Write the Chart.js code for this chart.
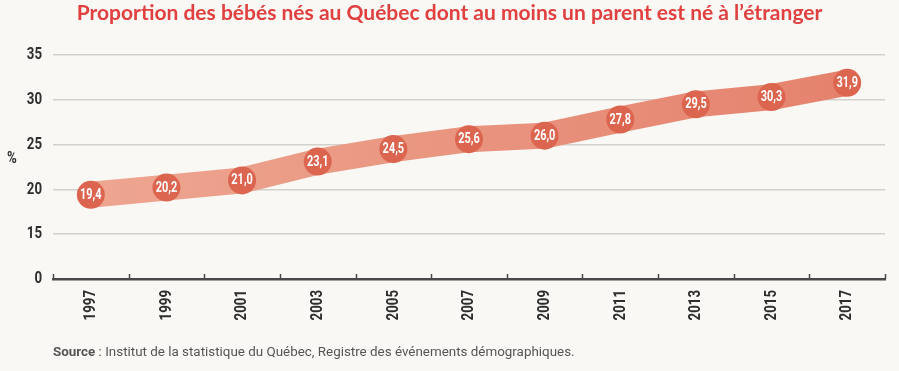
<!DOCTYPE html>
<html lang="fr">
<head>
<meta charset="utf-8">
<script src="https://cdn.jsdelivr.net/npm/chart.js@4/dist/chart.umd.min.js"></script>
<style>
  html, body { margin: 0; padding: 0; background: #f9f8f5; }
  #wrap { position: relative; width: 899px; height: 371px; overflow: hidden; }
  #chart { position: absolute; left: 0; top: 0; }
  #titre { position: absolute; left: 0; width: 899px; top: 0; text-align: center;
    font: 700 21px Lato, "Open Sans", sans-serif; color: #e0403f; line-height: 24px; }
  #pct { position: absolute; left: 7px; top: 147px; transform: scaleX(0.78); transform-origin: left top;
    font: 700 17px Roboto, sans-serif; color: #2e2e2e; }
  #source { position: absolute; left: 53px; top: 344px;
    font: 400 13.4px Roboto, sans-serif; color: #555; }
  #source b { font-weight: 700; }
</style>
</head>
<body>
<div id="wrap">
  <canvas id="chart" width="899" height="371"></canvas>
  <div id="titre">Proportion des bébés nés au Québec dont au moins un parent est né à l’étranger</div>
  <div id="pct">%</div>
  <div id="source"><b>Source</b> : Institut de la statistique du Québec, Registre des événements démographiques.</div>
</div>
<script>
// Données
const annees = ['1997', '1999', '2001', '2003', '2005', '2007', '2009', '2011', '2013', '2015', '2017'];
const proportions = [19.4, 20.2, 21.0, 23.1, 24.5, 25.6, 26.0, 27.8, 29.5, 30.3, 31.9];
const ticksY = [10, 15, 20, 25, 30, 35]; // 10 affiché comme « 0 » (axe coupé)

// pas de police étroite installée : on comprime Roboto à l'horizontale
const ETROIT = 0.78;

function texteEtroit(c, txt, x, y) {
    c.save();
    c.translate(x, y);
    c.scale(ETROIT, 1);
    c.fillText(txt, 0, 0);
    c.restore();
}

// Petits traits de graduation au-dessus de l'axe, entre les catégories
const graduations = {
    id: 'graduations',
    afterDraw(chart) {
        const x = chart.scales.x;
        const c = chart.ctx;
        const n = annees.length;
        const pas = (x.right - x.left) / n;
        c.save();
        c.strokeStyle = '#4a4a4a';
        c.lineWidth = 1.5;
        for (let i = 0; i <= n; i++) {
            const px = Math.round(x.left + i * pas) + 0.5;
            c.beginPath();
            c.moveTo(px, x.top - 5);
            c.lineTo(px, x.top);
            c.stroke();
        }
        c.restore();
    }
};

// Libellés des axes (écrits à la main pour pouvoir les comprimer)
const libelles = {
    id: 'libelles',
    afterDraw(chart) {
        const c = chart.ctx;
        const sx = chart.scales.x;
        const sy = chart.scales.y;
        c.save();
        c.fillStyle = '#2e2e2e';
        c.font = '700 17px Roboto, sans-serif';
        c.textBaseline = 'middle';

        c.textAlign = 'right';
        ticksY.forEach(v => {
            texteEtroit(c, v === 10 ? '0' : String(v), sy.right - 11, sy.getPixelForValue(v));
        });

        annees.forEach((a, i) => {
            c.save();
            c.translate(sx.getPixelForValue(i), sx.top + 11);
            c.rotate(-Math.PI / 2);
            c.textAlign = 'right';
            texteEtroit(c, a, 0, 0);
            c.restore();
        });
        c.restore();
    }
};

// Valeurs écrites dans les cercles
const etiquettes = {
    id: 'etiquettes',
    afterDatasetsDraw(chart) {
        const c = chart.ctx;
        const meta = chart.getDatasetMeta(0);
        c.save();
        c.fillStyle = '#ffffff';
        c.font = '700 14px Roboto, sans-serif';
        c.textAlign = 'center';
        c.textBaseline = 'middle';
        meta.data.forEach((pt, i) => {
            texteEtroit(c, proportions[i].toFixed(1).replace('.', ','), pt.x, pt.y + 0.5);
        });
        c.restore();
    }
};

const ctx = document.getElementById('chart').getContext('2d');
new Chart(ctx, {
    type: 'line',
    data: {
        labels: annees,
        datasets: [{
            data: proportions,
            borderWidth: 26,
            borderColor: function(context) {
                const area = context.chart.chartArea;
                if (!area) return '#eb9882';
                const g = context.chart.ctx.createLinearGradient(area.left, 0, area.right, 0);
                g.addColorStop(0, '#eea893');
                g.addColorStop(1, '#e4806b');
                return g;
            },
            borderCapStyle: 'butt',
            borderJoinStyle: 'miter',
            tension: 0,
            pointRadius: 14,
            pointHoverRadius: 14,
            pointBorderWidth: 0,
            pointBackgroundColor: '#dc6550',
            clip: false
        }]
    },
    options: {
        responsive: false,
        animation: false,
        layout: { padding: { top: 55, right: 14, bottom: 0, left: 0 } },
        plugins: {
            legend: { display: false },
            tooltip: { enabled: false }
        },
        scales: {
            x: {
                offset: true,
                grid: { display: false },
                border: { display: true, color: '#4a4a4a', width: 2.5 },
                ticks: { display: false },
                afterFit(scale) { scale.height = 92; }
            },
            y: {
                min: 10,
                max: 35,
                afterBuildTicks(scale) { scale.ticks = ticksY.map(v => ({ value: v })); },
                grid: {
                    color: context => context.tick && context.tick.value === 10 ? 'rgba(0,0,0,0)' : '#d3d1cc',
                    lineWidth: 1.5,
                    drawTicks: false
                },
                border: { display: false },
                ticks: { display: false },
                afterFit(scale) { scale.width = 53; }
            }
        }
    },
    plugins: [graduations, libelles, etiquettes]
});
</script>
</body>
</html>
